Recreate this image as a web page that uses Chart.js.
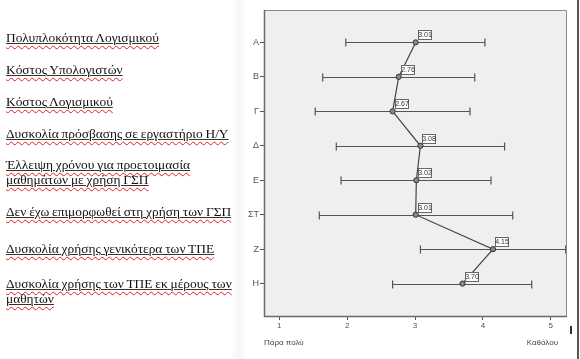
<!DOCTYPE html>
<html>
<head>
<meta charset="utf-8">
<script src="https://cdn.jsdelivr.net/npm/chart.js@4/dist/chart.umd.min.js"></script>
<style>
  html, body { margin: 0; padding: 0; background: #fff; }
  #wrap { position: relative; width: 580px; height: 359px; overflow: hidden; }
  #c { position: absolute; left: 0; top: 0; }
  .lbl { position: absolute; left: 6px; font-family: "Liberation Serif", "DejaVu Serif", serif;
         font-size: 13.4px; line-height: 15px; color: #111; white-space: nowrap;
         letter-spacing: 0px; word-spacing: -0.5px; }
  .u1 { text-decoration: underline solid #333 1px; text-underline-offset: 1px; }
  .u2 { text-decoration: underline wavy #e02020 1px; text-underline-offset: 3px; }
  #shade { position: absolute; left: 232px; top: 0; width: 14px; height: 359px;
           background: linear-gradient(to right, #fdfdfd, #f6f6f6 50%, #fdfdfd); }
  #vline { position: absolute; left: 577px; top: 0; width: 2px; height: 359px; background: #555; }
  #cursor { position: absolute; left: 570px; top: 326px; width: 2px; height: 8px; background: #333; }
</style>
</head>
<body>
<div id="wrap">
  <div id="shade"></div>
  <canvas id="c" width="580" height="359"></canvas>
  <div id="vline"></div>
  <div id="cursor"></div>
  <div class="lbl" style="top:30px"><span class="u1"><span class="u2">Πολυπλοκότητα Λογισμικού</span></span></div>
  <div class="lbl" style="top:62px"><span class="u1"><span class="u2">Κόστος Υπολογιστών</span></span></div>
  <div class="lbl" style="top:94px"><span class="u1"><span class="u2">Κόστος Λογισμικού</span></span></div>
  <div class="lbl" style="top:126px"><span class="u1"><span class="u2">Δυσκολία πρόσβασης σε εργαστήριο Η/Υ</span></span></div>
  <div class="lbl" style="top:157px"><span class="u1"><span class="u2">Έλλειψη χρόνου για προετοιμασία</span></span><br><span class="u1"><span class="u2">μαθημάτων με χρήση ΓΣΠ</span></span></div>
  <div class="lbl" style="top:204px"><span class="u1"><span class="u2">Δεν έχω επιμορφωθεί στη χρήση των ΓΣΠ</span></span></div>
  <div class="lbl" style="top:241px"><span class="u1"><span class="u2">Δυσκολία χρήσης γενικότερα των ΤΠΕ</span></span></div>
  <div class="lbl" style="top:276px"><span class="u1"><span class="u2">Δυσκολία χρήσης των ΤΠΕ εκ μέρους των</span></span><br><span class="u1"><span class="u2">μαθητών</span></span></div>
</div>
<script>
// ---- data ----
const categories = ['A', 'B', 'Γ', 'Δ', 'E', 'ΣΤ', 'Z', 'H'];
const means  = [3.01, 2.76, 2.67, 3.08, 3.02, 3.01, 4.15, 3.70];
const lowers = [1.98, 1.64, 1.53, 1.84, 1.91, 1.59, 3.08, 2.67];
const uppers = [4.03, 3.88, 3.81, 4.32, 4.12, 4.44, 5.22, 4.72];
const xTicks = [1, 2, 3, 4, 5];
const xEndLabels = ['Πάρα πολύ', 'Καθόλου'];

const FONT = '"Liberation Sans", Arial, sans-serif';

const framePlugin = {
  id: 'frame',
  beforeDraw(chart) {
    const { ctx, chartArea: a } = chart;
    ctx.save();
    ctx.fillStyle = '#efefef';
    ctx.fillRect(a.left, a.top, a.right - a.left, a.bottom - a.top);
    ctx.restore();
  },
  beforeDatasetsDraw(chart) {
    const { ctx, chartArea: a, scales } = chart;
    const xs = scales.x, ys = scales.y;
    ctx.save();
    ctx.beginPath();
    ctx.rect(a.left, a.top, a.right - a.left, a.bottom - a.top);
    ctx.clip();
    ctx.strokeStyle = '#555';
    ctx.lineWidth = 1.2;
    categories.forEach((c, i) => {
      const y = Math.round(ys.getPixelForValue(i)) + 0.5;
      const x1 = xs.getPixelForValue(lowers[i]);
      const x2 = xs.getPixelForValue(uppers[i]);
      ctx.beginPath();
      ctx.moveTo(x1, y); ctx.lineTo(x2, y);
      ctx.moveTo(x1, y - 4); ctx.lineTo(x1, y + 4);
      ctx.moveTo(x2, y - 4); ctx.lineTo(x2, y + 4);
      ctx.stroke();
    });
    ctx.restore();
  },
  afterDatasetsDraw(chart) {
    const { ctx, chartArea: a, scales } = chart;
    const xs = scales.x, ys = scales.y;
    ctx.save();
    // value label boxes
    ctx.font = '7px ' + FONT;
    ctx.textAlign = 'center';
    ctx.textBaseline = 'middle';
    means.forEach((m, i) => {
      const px = xs.getPixelForValue(m);
      const py = ys.getPixelForValue(i);
      const bx = Math.round(px + 2) + 0.5, by = Math.round(py - 12) + 0.5;
      ctx.fillStyle = '#fff';
      ctx.fillRect(bx, by, 13, 9);
      ctx.strokeStyle = '#666';
      ctx.lineWidth = 1;
      ctx.strokeRect(bx, by, 13, 9);
      ctx.fillStyle = '#333';
      ctx.fillText(m.toFixed(2), bx + 6.5, by + 5);
    });
    // frame
    ctx.lineWidth = 1;
    ctx.strokeStyle = '#8c8c8c';
    ctx.beginPath();
    ctx.moveTo(a.left, a.top + 0.5); ctx.lineTo(a.right + 0.5, a.top + 0.5); ctx.lineTo(a.right + 0.5, a.bottom);
    ctx.stroke();
    ctx.strokeStyle = '#6a6a6a';
    ctx.lineWidth = 1.5;
    ctx.beginPath();
    ctx.moveTo(a.left + 0.5, a.top); ctx.lineTo(a.left + 0.5, a.bottom + 0.5); ctx.lineTo(a.right + 1, a.bottom + 0.5);
    ctx.stroke();
    // end labels
    ctx.fillStyle = '#444';
    ctx.font = '8px ' + FONT;
    ctx.textBaseline = 'middle';
    ctx.textAlign = 'left';
    ctx.fillText(xEndLabels[0], a.left, 343);
    ctx.textAlign = 'right';
    ctx.fillText(xEndLabels[1], 558, 343);
    ctx.restore();
  }
};

new Chart(document.getElementById('c'), {
  type: 'scatter',
  data: {
    datasets: [{
      data: means.map((m, i) => ({ x: m, y: i })),
      showLine: true,
      borderColor: '#444',
      borderWidth: 1.2,
      pointRadius: 2.6,
      pointBorderWidth: 1,
      pointBorderColor: '#333',
      pointBackgroundColor: '#8a8a8a'
    }]
  },
  options: {
    responsive: false,
    animation: false,
    devicePixelRatio: 1,
    layout: { padding: { left: 244, top: 10, right: 14, bottom: 0 } },
    plugins: { legend: { display: false }, tooltip: { enabled: false } },
    scales: {
      x: {
        type: 'linear',
        min: 0.775, max: 5.225,
        afterBuildTicks: (axis) => { axis.ticks = xTicks.map(v => ({ value: v })); },
        afterFit: (s) => { s.height = 43; },
        grid: { display: true, drawOnChartArea: false, drawTicks: true, tickLength: 4, color: '#555' },
        border: { display: false },
        ticks: { color: '#555', font: { family: FONT, size: 8 }, padding: 1, maxRotation: 0 }
      },
      y: {
        type: 'linear',
        reverse: true,
        min: -0.94, max: 7.94,
        afterBuildTicks: (axis) => { axis.ticks = categories.map((c, i) => ({ value: i })); },
        afterFit: (s) => { s.width = 20; },
        grid: { display: true, drawOnChartArea: false, drawTicks: true, tickLength: 4, color: '#555' },
        border: { display: false },
        ticks: { color: '#555', font: { family: FONT, size: 9 }, padding: 1,
                  callback: (v) => categories[v] }
      }
    }
  },
  plugins: [framePlugin]
});
</script>
</body>
</html>
